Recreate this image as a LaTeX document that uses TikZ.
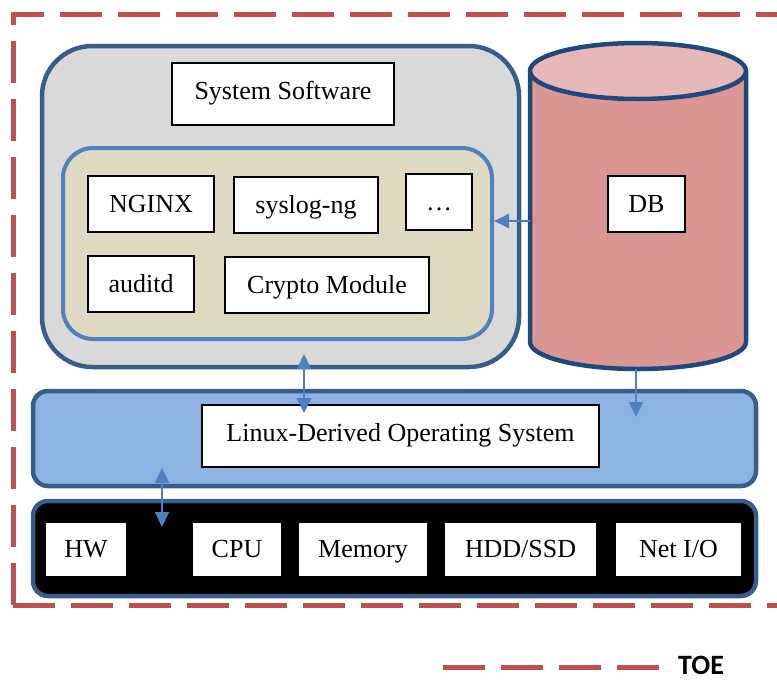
\documentclass[tikz,border=0pt]{standalone}
\usepackage{fontspec}
\setmainfont{Liberation Serif}
\newfontfamily\toefont{Carlito}
\usetikzlibrary{arrows.meta}

\definecolor{toered}{HTML}{C0504D}
\definecolor{darkblue}{HTML}{385D8A}
\definecolor{cylblue}{HTML}{1F497D}
\definecolor{midblue}{HTML}{4F81BD}
\definecolor{lightblue}{HTML}{8DB3E2}
\definecolor{panelgray}{HTML}{D9D9D9}
\definecolor{paneltan}{HTML}{DDD9C3}
\definecolor{dbbody}{HTML}{D99694}
\definecolor{dbtop}{HTML}{E6B9B8}

\begin{document}
\begin{tikzpicture}[x=1pt, y=-1pt,
  label box/.style={draw=black, line width=1.1pt, fill=white, inner sep=0pt,
    minimum height=56pt, text height=18pt, text depth=2pt, font=\fontsize{26}{30}\selectfont},
  tall box/.style={label box, minimum height=62pt, text depth=8pt},
  layer/.style={draw=darkblue, line width=4.5pt, inner sep=0pt},
  toe line/.style={draw=toered, line width=5pt, dash pattern=on 42pt off 16pt},
  link/.style={draw=midblue, line width=2pt, -{Triangle[length=15pt,width=14pt]}},
  both link/.style={link, {Triangle[length=15pt,width=14pt]}-{Triangle[length=15pt,width=14pt]}}]
\path[use as bounding box, clip] (0,0) rectangle (777,681);

\draw[toe line] (13,605) -- (13,14) -- (800,14);
\draw[toe line] (13,605) -- (800,605);

\node[layer, fill=panelgray, rounded corners=50pt, minimum width=477pt, minimum height=321pt] (sysbox) at (280.5,206.5) {};
\node[tall box, minimum width=222pt] (syssw) at (283,94) {System Software};
\node[layer, draw=midblue, line width=4pt, fill=paneltan, rounded corners=30pt, minimum width=429pt, minimum height=191pt] (inner) at (277.5,243.5) {};
\node[label box, minimum width=126pt] (nginx) at (151,204) {NGINX};
\node[label box, minimum width=144pt] (syslog) at (306,205) {syslog-ng};
\node[label box, minimum width=66pt] (more) at (439,202) {…};
\node[label box, minimum width=106pt] (auditd) at (141,284) {auditd};
\node[label box, minimum width=204pt] (crypto) at (327,285) {Crypto Module};

\fill[dbbody] (530,71) -- (530,342) arc[start angle=180, end angle=0, x radius=108, y radius=27] -- (746,71) -- cycle;
\fill[dbtop] (638,71) ellipse[x radius=108, y radius=28];
\draw[cylblue, line width=4.5pt, line join=round] (530,71) -- (530,342) arc[start angle=180, end angle=0, x radius=108, y radius=27] -- (746,71);
\draw[cylblue, line width=4.5pt] (638,71) ellipse[x radius=108, y radius=28];
\node[label box, minimum width=77pt] (db) at (646.5,204) {DB};

\node[layer, fill=lightblue, rounded corners=15pt, minimum width=723pt, minimum height=95pt] (os) at (394.5,438.5) {};
\node[tall box, minimum width=397pt] (linux) at (400.5,436) {Linux-Derived Operating System};

\node[layer, fill=black, rounded corners=15pt, minimum width=723pt, minimum height=95pt] (hwbar) at (394.5,548.5) {};
\node[label box, minimum width=82pt, minimum height=55pt] (hw) at (86,549.5) {HW};
\node[label box, minimum width=90pt, minimum height=55pt] (cpu) at (237,549.5) {CPU};
\node[label box, minimum width=130pt, minimum height=55pt] (memory) at (363,549.5) {Memory};
\node[label box, minimum width=153pt, minimum height=55pt] (disk) at (520.5,549.5) {HDD/SSD};
\node[label box, minimum width=127pt, minimum height=55pt] (netio) at (678.5,549.5) {Net I/O};

\coordinate (db-out) at (530,221);
\draw[link] (db-out) -- (db-out -| inner.east);
\coordinate (sw-down) at (304,354);
\coordinate (os-up) at (304,413);
\draw[both link] (sw-down) -- (os-up);
\coordinate (db-foot) at (636,369);
\coordinate (os-in) at (636,417);
\draw[link] (db-foot) -- (os-in);
\coordinate (os-down) at (162,468);
\coordinate (hw-up) at (162,527);
\draw[both link] (os-down) -- (hw-up);

\draw[toe line] (443,667) -- (661,667);
\node[anchor=west, inner sep=0pt, font=\toefont\bfseries\fontsize{28}{34}\selectfont] (toe) at (678,665) {TOE};
\end{tikzpicture}
\end{document}
